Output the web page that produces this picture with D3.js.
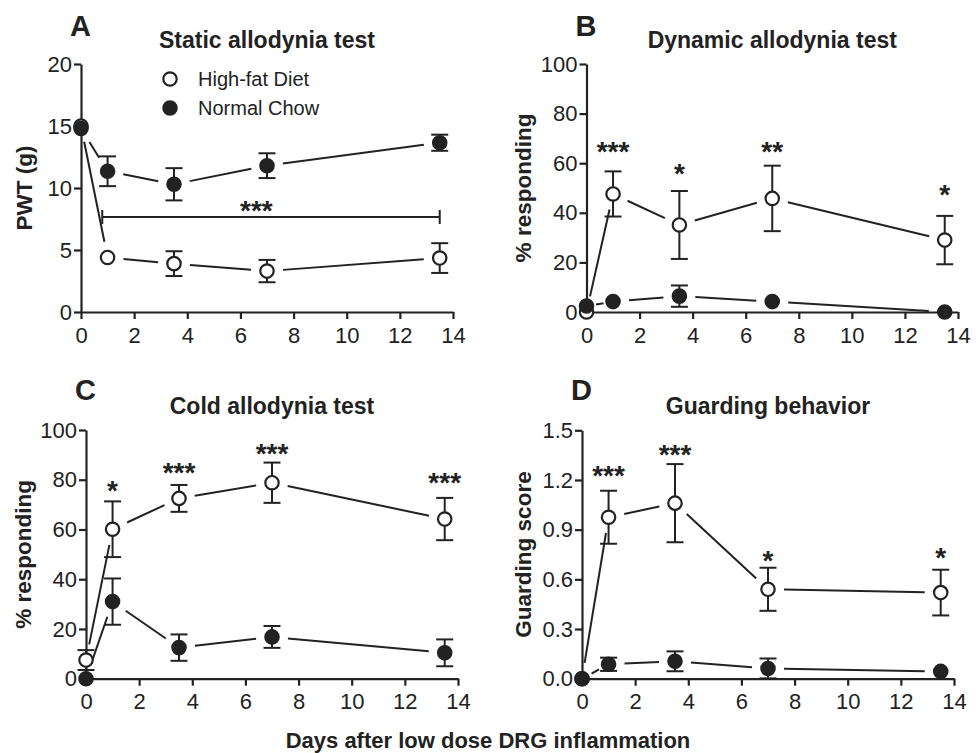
<!DOCTYPE html>
<html>
<head>
<meta charset="utf-8">
<script src="https://cdn.jsdelivr.net/npm/d3@7"></script>
<style>
  body { margin: 0; background: #fff; }
  svg { display: block; font-family: "Liberation Sans", Arial, sans-serif; }
</style>
</head>
<body>
<svg id="chart" width="976" height="753"></svg>
<script>
// days after inflammation, same for every panel
const days = [0, 1, 3.5, 7, 13.5];
const xTicks = [0, 2, 4, 6, 8, 10, 12, 14];

// A - static allodynia (PWT, g)
const staticHFD = [15.0, 4.4, 3.9, 3.3, 4.35];
const staticHFDsem = [0, 0, 1.0, 0.9, 1.2];
const staticNC = [14.8, 11.35, 10.3, 11.8, 13.65];
const staticNCsem = [0, 1.2, 1.3, 1.0, 0.65];
const staticTicks = [0, 5, 10, 15, 20];

// B - dynamic allodynia (% responding)
const dynamicHFD = [0, 47.6, 35.1, 45.8, 29.0];
const dynamicHFDsem = [0, 9.1, 13.7, 13.2, 9.75];
const dynamicNC = [2.4, 4.2, 6.4, 4.2, 0];
const dynamicNCsem = [0, 0, 4.3, 0, 0];
const dynamicStars = ["***", "*", "**", "*"];
const dynamicStarY = [67.5, 58.6, 67.3, 49.9];

// C - cold allodynia (% responding)
const coldHFD = [7.5, 60.1, 72.5, 78.8, 64.2];
const coldHFDsem = [4, 11.2, 5.4, 8.1, 8.5];
const coldNC = [0, 31.0, 12.5, 16.8, 10.4];
const coldNCsem = [0, 9.3, 5.3, 4.4, 5.4];
const coldStars = ["*", "***", "***", "***"];
const coldStarY = [78.2, 85.5, 93.2, 81.5];

const pctTicks = [0, 20, 40, 60, 80, 100];

// D - guarding behavior
const guardHFD = [0, 0.975, 1.06, 0.54, 0.52];
const guardHFDsem = [0, 0.16, 0.236, 0.13, 0.138];
const guardNC = [0, 0.087, 0.105, 0.062, 0.044];
const guardNCsem = [0, 0.04, 0.06, 0.06, 0];
const guardStars = ["***", "***", "*", "*"];
const guardStarY = [1.264, 1.395, 0.751, 0.771];
const guardTicks = [0, 0.3, 0.6, 0.9, 1.2, 1.5];

const seriesNames = ["High-fat Diet", "Normal Chow"];

const ink = "#222";
const svg = d3.select("#chart");

const panels = [
  { letter: "A", title: "Static allodynia test", yLabel: "PWT (g)", yMax: 20, ticks: staticTicks, fmt: d3.format("d"),
    hfd: staticHFD, hfdSem: staticHFDsem, nc: staticNC, ncSem: staticNCsem, stars: [], starY: [],
    x0: 81, x1: 453, yTop: 64, yBot: 312, labelX: 31.5 },
  { letter: "B", title: "Dynamic allodynia test", yLabel: "% responding", yMax: 100, ticks: pctTicks, fmt: d3.format("d"),
    hfd: dynamicHFD, hfdSem: dynamicHFDsem, nc: dynamicNC, ncSem: dynamicNCsem, stars: dynamicStars, starY: dynamicStarY,
    x0: 586.5, x1: 958, yTop: 64, yBot: 312, labelX: 531 },
  { letter: "C", title: "Cold allodynia test", yLabel: "% responding", yMax: 100, ticks: pctTicks, fmt: d3.format("d"),
    hfd: coldHFD, hfdSem: coldHFDsem, nc: coldNC, ncSem: coldNCsem, stars: coldStars, starY: coldStarY,
    x0: 86, x1: 458, yTop: 430, yBot: 678.7, labelX: 31 },
  { letter: "D", title: "Guarding behavior", yLabel: "Guarding score", yMax: 1.5, ticks: guardTicks, fmt: d3.format(".1f"),
    hfd: guardHFD, hfdSem: guardHFDsem, nc: guardNC, ncSem: guardNCsem, stars: guardStars, starY: guardStarY,
    x0: 582, x1: 954, yTop: 430.3, yBot: 678.7, labelX: 531 }
];

const r = 6.7;

panels.forEach(function(p) {
  const x = d3.scaleLinear().domain([0, 14]).range([p.x0, p.x1]);
  const y = d3.scaleLinear().domain([0, p.yMax]).range([p.yBot, p.yTop]);
  const g = svg.append("g");

  // axes
  const xAxis = g.append("g")
    .attr("transform", "translate(0," + p.yBot + ")")
    .call(d3.axisBottom(x).tickValues(xTicks).tickSize(7).tickSizeOuter(0).tickPadding(8));
  const yAxis = g.append("g")
    .attr("transform", "translate(" + p.x0 + ",0)")
    .call(d3.axisLeft(y).tickValues(p.ticks).tickFormat(p.fmt).tickSize(7).tickSizeOuter(0).tickPadding(2));
  [xAxis, yAxis].forEach(function(a) {
    a.selectAll("path, line").attr("stroke", ink).attr("stroke-width", 2.2);
    a.selectAll("text").attr("fill", ink).style("font-size", "22px");
    a.attr("font-family", null);
  });

  // titles
  g.append("text")
    .attr("x", p.x0 - 11).attr("y", p.yBot - (p.letter < "C" ? 276 : 278.5))
    .attr("font-size", 29).attr("font-weight", "bold").attr("fill", ink)
    .text(p.letter);
  g.append("text")
    .attr("x", (p.x0 + p.x1) / 2).attr("y", p.yBot - (p.letter < "C" ? 264 : 264.5))
    .attr("text-anchor", "middle").attr("font-size", 23).attr("font-weight", "bold").attr("fill", ink)
    .text(p.title);
  g.append("text")
    .attr("transform", "translate(" + p.labelX + "," + (p.yTop + p.yBot) / 2 + ") rotate(-90)")
    .attr("text-anchor", "middle").attr("font-size", 22.5).attr("font-weight", "bold").attr("fill", ink)
    .text(p.yLabel);

  const series = [
    { mean: p.hfd, sem: p.hfdSem, fill: "#fff" },
    { mean: p.nc, sem: p.ncSem, fill: ink }
  ];

  // connecting lines, with a gap around each marker
  series.forEach(function(s) {
    for (let i = 0; i < days.length - 1; i++) {
      const ax = x(days[i]), ay = y(s.mean[i]);
      const bx = x(days[i + 1]), by = y(s.mean[i + 1]);
      const len = Math.hypot(bx - ax, by - ay);
      const cut = Math.min(16, 0.36 * len);
      const ux = (bx - ax) / len, uy = (by - ay) / len;
      g.append("line")
        .attr("x1", ax + ux * cut).attr("y1", ay + uy * cut)
        .attr("x2", bx - ux * cut).attr("y2", by - uy * cut)
        .attr("stroke", ink).attr("stroke-width", 2);
    }
  });

  // error bars + markers
  series.forEach(function(s) {
    const pts = days.map((d, i) => ({ d: d, m: s.mean[i], e: s.sem[i] }));
    const eb = g.append("g").attr("stroke", ink).attr("stroke-width", 2);
    pts.filter(q => q.e > 0).forEach(function(q) {
      const cx = x(q.d);
      eb.append("line").attr("x1", cx).attr("x2", cx).attr("y1", y(q.m + q.e)).attr("y2", y(Math.max(0, q.m - q.e)));
      eb.append("line").attr("x1", cx - 8.5).attr("x2", cx + 8.5).attr("y1", y(q.m + q.e)).attr("y2", y(q.m + q.e));
      if (q.m - q.e > 0)
        eb.append("line").attr("x1", cx - 8.5).attr("x2", cx + 8.5).attr("y1", y(q.m - q.e)).attr("y2", y(q.m - q.e));
    });
    g.selectAll(null).data(pts).enter().append("circle")
      .attr("cx", q => x(q.d)).attr("cy", q => y(q.m)).attr("r", r)
      .attr("fill", s.fill).attr("stroke", ink).attr("stroke-width", 2.2);
  });

  // significance stars
  g.selectAll(null).data(p.stars).enter().append("text")
    .attr("x", (t, i) => x(days[i + 1]))
    .attr("y", (t, i) => y(p.starY[i]))
    .attr("dy", "0.57em")
    .attr("text-anchor", "middle").attr("font-size", 28).attr("font-weight", "bold").attr("fill", ink)
    .text(t => t);

  if (p.letter === "A") {
    // bracket spanning day 1 to 13.5
    const by = y(7.66);
    const bx0 = x(0.8), bx1 = x(13.5);
    const br = g.append("g").attr("stroke", ink).attr("stroke-width", 2);
    br.append("line").attr("x1", bx0).attr("x2", bx1).attr("y1", by).attr("y2", by);
    br.append("line").attr("x1", bx0).attr("x2", bx0).attr("y1", by - 7).attr("y2", by + 7);
    br.append("line").attr("x1", bx1).attr("x2", bx1).attr("y1", by - 7).attr("y2", by + 7);
    g.append("text")
      .attr("x", x(6.6)).attr("y", y(8.7)).attr("dy", "0.57em")
      .attr("text-anchor", "middle").attr("font-size", 28).attr("font-weight", "bold").attr("fill", ink)
      .text("***");

    // legend
    const lg = g.append("g");
    seriesNames.forEach(function(name, i) {
      lg.append("circle").attr("cx", 170).attr("cy", 79 + i * 29).attr("r", r)
        .attr("fill", series[i].fill).attr("stroke", ink).attr("stroke-width", 2.2);
      lg.append("text").attr("x", 198).attr("y", 79 + i * 29).attr("dy", "0.35em")
        .attr("font-size", 20).attr("fill", ink).text(name);
    });
  }
});

svg.append("text")
  .attr("x", 488).attr("y", 748)
  .attr("text-anchor", "middle").attr("font-size", 22).attr("font-weight", "bold").attr("fill", ink)
  .text("Days after low dose DRG inflammation");
</script>
</body>
</html>
